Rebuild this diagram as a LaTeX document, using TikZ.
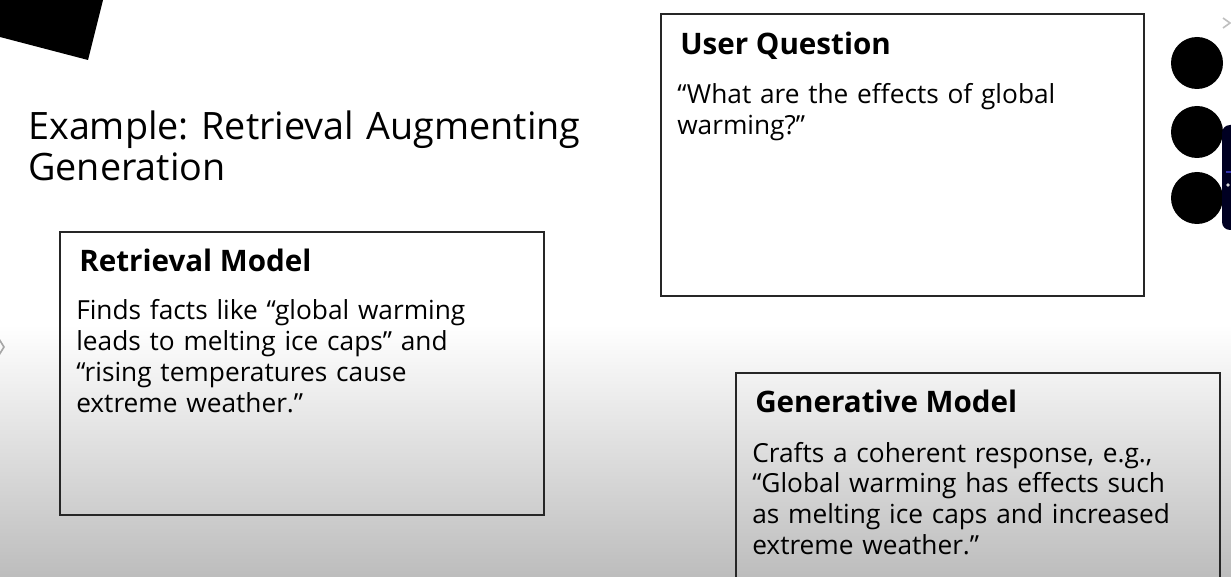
\documentclass[tikz,border=0pt]{standalone}
\usepackage{fontspec}
\setmainfont{Open Sans}
\usetikzlibrary{positioning}
\frenchspacing

\begin{document}
\begin{tikzpicture}[
    x=0.75pt, y=-0.75pt,
    rahmen/.style={
      draw=black!85,
      line width=1.1pt},
    titel/.style={
      anchor=base west,
      inner sep=0pt,
      text width=480pt,
      align=left,
      font=\fontsize{28.3}{30.75}\selectfont},
    kopf/.style={
      anchor=base west,
      inner sep=0pt,
      font=\fontsize{22.2}{23.2}\selectfont\bfseries},
    zeilen/.style={
      anchor=base west,
      inner sep=0pt,
      text width=400pt,
      align=left,
      font=\fontsize{19.7}{23.1}\selectfont},
    punkt/.style={
      circle,
      fill=black,
      minimum size=39pt,
      inner sep=0pt}
    ]

  \useasboundingbox (0,0) rectangle (1231,577);
  \clip (0,0) rectangle (1231,577);

  % hintergrund
  \fill[white] (0,0) rectangle (1231,577);
  \shade[top color=white, bottom color=gray!52] (0,325) rectangle (1231,577);

  % ecke oben links
  \fill[black] (0,0) -- (103,0) -- (88,60) -- (0,37) -- cycle;

  % kleine pfeile am rand
  \draw[black!25, line width=1.2pt] (1223,18) -- (1230,23) -- (1223,28);
  \draw[black!35, line width=1.2pt] (-1,339) -- (4,347) -- (-1,355);

  % punkte rechts
  \node at (1197,63) (punkt0) [punkt] {};
  \node at (1197,132) (punkt1) [punkt] {};
  \node at (1197,198) (punkt2) [punkt] {};

  % leiste am rechten rand
  \fill[black!70!blue!45!black, rounded corners=6pt] (1222,125) rectangle (1245,230);
  \fill[blue!60!black!80!white] (1226,171) rectangle (1231,173);
  \fill[white!85!black] (1228,185) circle (1.8);

  % titel
  \node at (28,140) (titel0) [titel] {Example: Retrieval Augmenting\\Generation};

  % frage
  \draw[rahmen] (661,14) rectangle (1144,296);
  \node at (680,55) (frage) [kopf] {User Question};
  \node at (677,104) (fragetext) [zeilen]
    {“What are the effects of global\\warming?”};

  % retrieval
  \draw[rahmen] (60,232) rectangle (544,515);
  \node at (79,272) (retrieval) [kopf] {Retrieval Model};
  \node at (76,320) (retrievaltext) [zeilen]
    {Finds facts like “global warming\\leads to melting ice caps” and\\“rising temperatures cause\\extreme weather.”};

  % generativ
  \draw[rahmen] (736,373) rectangle (1220,600);
  \node at (755,412) (generativ) [kopf] {Generative Model};
  \node at (752,462) (generativtext) [zeilen]
    {Crafts a coherent response, e.g.,\\“Global warming has effects such\\as melting ice caps and increased\\extreme weather.”};

\end{tikzpicture}
\end{document}
